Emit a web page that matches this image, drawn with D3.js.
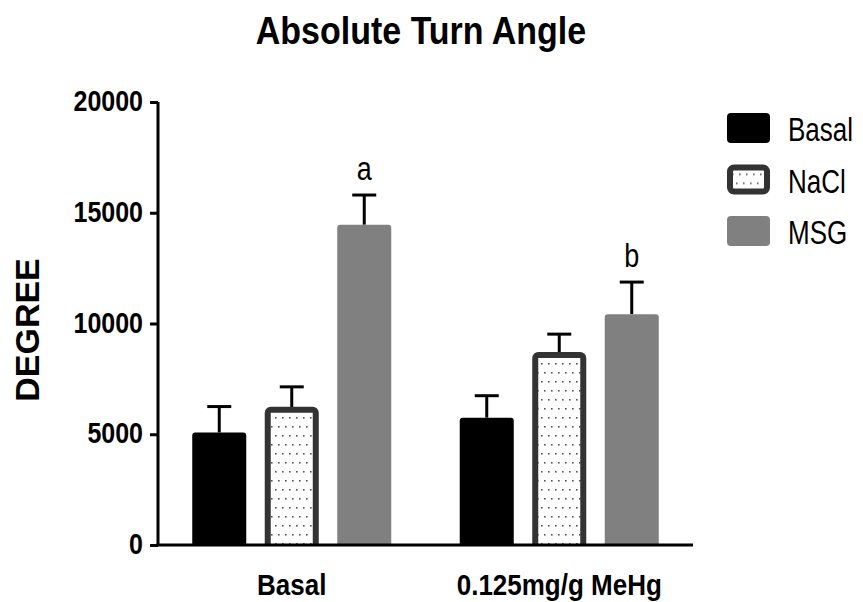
<!DOCTYPE html>
<html>
<head>
    <script src="https://d3js.org/d3.v7.min.js"></script>
    <style>
        body { margin: 0; background: #fff; }
        text { font-family: "Liberation Sans", Arial, sans-serif; }
    </style>
</head>
<body>
    <div id="chart"></div>

    <script>
        // data
        const groups = ["Basal", "0.125mg/g MeHg"];
        const treatments = ["Basal", "NaCl", "MSG"];
        const basalValues = [5080, 6110, 14460];
        const basalErrors = [1170, 1030, 1340];
        const mehgValues = [5750, 8580, 10420];
        const mehgErrors = [990, 940, 1450];
        const letters = [["", "", "a"], ["", "", "b"]];
        const yTicks = [0, 5000, 10000, 15000, 20000];

        const width = 863, height = 602;

        const svg = d3.select("#chart")
            .append("svg")
            .attr("width", width)
            .attr("height", height);

        // text in the picture is a bit taller than its width suggests
        function tallText(sel, tx, ty, sy) {
            return sel.append("text")
                .attr("transform", `translate(${tx},${ty}) scale(1,${sy})`);
        }

        const defs = svg.append("defs");
        const pat = defs.append("pattern")
            .attr("id", "dots")
            .attr("patternUnits", "userSpaceOnUse")
            .attr("width", 14)
            .attr("height", 18);
        pat.append("rect").attr("width", 14).attr("height", 18).attr("fill", "#fff");
        pat.append("rect").attr("x", 2).attr("y", 3).attr("width", 1.6).attr("height", 1.6).attr("fill", "#555");
        pat.append("rect").attr("x", 9).attr("y", 3).attr("width", 1.6).attr("height", 1.6).attr("fill", "#555");
        pat.append("rect").attr("x", 5).attr("y", 12).attr("width", 1.6).attr("height", 1.6).attr("fill", "#555");
        pat.append("rect").attr("x", 12).attr("y", 12).attr("width", 1.6).attr("height", 1.6).attr("fill", "#555");

        const x0 = 158, x1 = 693, yBase = 545, yTop = 102;

        const x = d3.scaleBand().domain(groups).range([x0, x1]);
        const xi = d3.scaleBand().domain(treatments).range([-108.75, 108.75]).paddingInner(0.255).paddingOuter(0.1275);
        const y = d3.scaleLinear().domain([0, 20000]).range([yBase, yTop]);

        const fills = { "Basal": "#000", "NaCl": "url(#dots)", "MSG": "#808080" };

        const rows = [];
        groups.forEach((g, gi) => {
            const vals = gi === 0 ? basalValues : mehgValues;
            const errs = gi === 0 ? basalErrors : mehgErrors;
            treatments.forEach((t, ti) => {
                rows.push({ g: g, t: t, v: vals[ti], e: errs[ti], letter: letters[gi][ti] });
            });
        });

        const cx = d => x(d.g) + x.bandwidth() / 2 + xi(d.t) + xi.bandwidth() / 2;

        // error bars (drawn first so the bar top covers the stem)
        const err = svg.append("g");
        err.selectAll("line.stem").data(rows).enter().append("line")
            .attr("x1", cx).attr("x2", cx)
            .attr("y1", d => y(d.v)).attr("y2", d => y(d.v + d.e))
            .attr("stroke", "#000").attr("stroke-width", 3);
        err.selectAll("line.cap").data(rows).enter().append("line")
            .attr("x1", d => cx(d) - 12).attr("x2", d => cx(d) + 12)
            .attr("y1", d => y(d.v + d.e)).attr("y2", d => y(d.v + d.e))
            .attr("stroke", "#000").attr("stroke-width", 3);

        // bars
        svg.append("g").selectAll("rect").data(rows).enter().append("rect")
            .attr("x", d => d.t === "NaCl" ? cx(d) - xi.bandwidth() / 2 + 3 : cx(d) - xi.bandwidth() / 2)
            .attr("width", d => d.t === "NaCl" ? xi.bandwidth() - 6 : xi.bandwidth())
            .attr("y", d => y(d.v))
            .attr("height", d => yBase - y(d.v) + 6)
            .attr("rx", 3)
            .attr("fill", d => fills[d.t])
            .attr("stroke", d => d.t === "NaCl" ? "#333" : "none")
            .attr("stroke-width", 6);

        // letters above error bars
        const letG = svg.append("g");
        rows.filter(d => d.letter).forEach(d => {
            tallText(letG, cx(d), y(d.v + d.e) - 15, 1.2)
                .attr("text-anchor", "middle")
                .attr("font-size", 27)
                .text(d.letter);
        });

        // white strip below axis to clip bar bottoms
        svg.append("rect").attr("x", x0).attr("y", yBase).attr("width", x1 - x0 + 4).attr("height", 12).attr("fill", "#fff");

        // axes
        const yAxis = svg.append("g")
            .attr("transform", `translate(${x0},0)`)
            .call(d3.axisLeft(y).tickValues(yTicks).tickSize(8).tickPadding(7).tickFormat(d3.format("d")));
        yAxis.select(".domain").attr("d", `M0,${yTop}V${yBase}`).attr("stroke-width", 3);
        yAxis.selectAll(".tick line").attr("stroke-width", 3);
        yAxis.selectAll(".tick text")
            .attr("font-size", 25).attr("font-weight", "bold").attr("fill", "#000")
            .attr("font-family", '"Liberation Sans", Arial, sans-serif')
            .attr("dy", "0.3em")
            .attr("transform", "scale(1,1.15)")
            .attr("y", 0);

        svg.append("line")
            .attr("x1", x0 - 1.5).attr("x2", x1)
            .attr("y1", yBase).attr("y2", yBase)
            .attr("stroke", "#000").attr("stroke-width", 3);

        // category labels
        const catG = svg.append("g");
        groups.forEach(g => {
            tallText(catG, x(g) + x.bandwidth() / 2, 595, 1.15)
                .attr("text-anchor", "middle")
                .attr("font-size", 26)
                .attr("font-weight", "bold")
                .text(g);
        });

        // title
        tallText(svg, 421, 44, 1.15)
            .attr("text-anchor", "middle")
            .attr("font-size", 34)
            .attr("font-weight", "bold")
            .text("Absolute Turn Angle");

        // y label
        svg.append("text")
            .attr("transform", "translate(39,330) rotate(-90)")
            .attr("text-anchor", "middle")
            .attr("font-size", 34)
            .attr("font-weight", "bold")
            .text("DEGREE");

        // legend
        const leg = svg.append("g").selectAll("g").data(treatments).enter().append("g")
            .attr("transform", (d, i) => `translate(727,${128 + i * 51.5})`);
        leg.append("rect")
            .attr("x", d => d === "NaCl" ? 3 : 0)
            .attr("y", d => d === "NaCl" ? -12 : -15)
            .attr("width", d => d === "NaCl" ? 37 : 43)
            .attr("height", d => d === "NaCl" ? 24 : 30)
            .attr("rx", 4)
            .attr("fill", d => fills[d])
            .attr("stroke", d => d === "NaCl" ? "#333" : "none")
            .attr("stroke-width", 6);
        leg.append("text")
            .attr("transform", "translate(61,13) scale(1,1.3)")
            .attr("font-size", 26)
            .text(d => d);
    </script>
</body>
</html>
